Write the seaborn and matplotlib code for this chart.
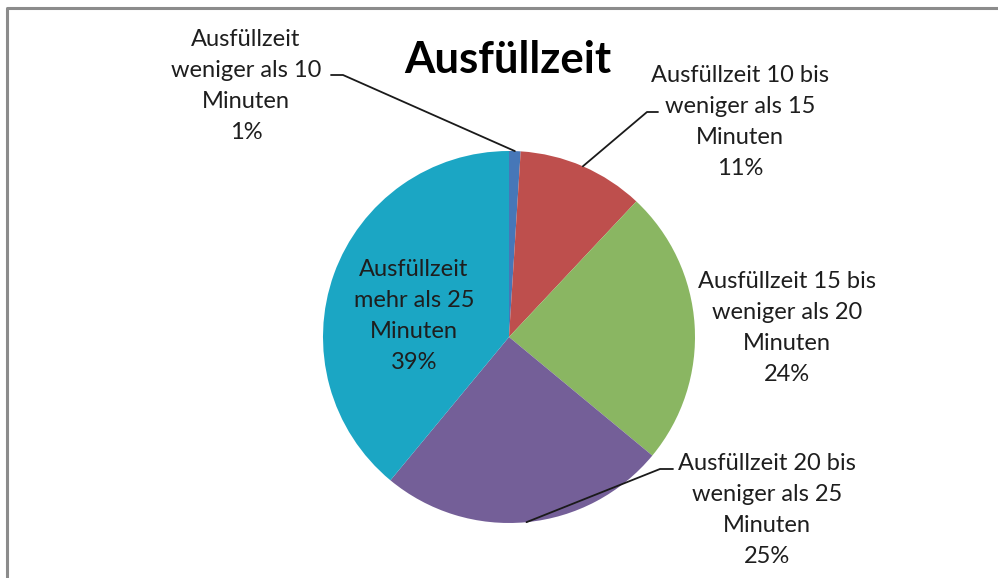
import numpy as np
import matplotlib
matplotlib.use("Agg")
import matplotlib.pyplot as plt
import seaborn as sns

categories = [
    "Ausfüllzeit\nweniger als 10\nMinuten",
    "Ausfüllzeit 10 bis\nweniger als 15\nMinuten",
    "Ausfüllzeit 15 bis\nweniger als 20\nMinuten",
    "Ausfüllzeit 20 bis\nweniger als 25\nMinuten",
    "Ausfüllzeit\nmehr als 25\nMinuten",
]
percent = [1, 11, 24, 25, 39]
colors = ["#4677B8", "#BE4F4D", "#8AB662", "#745F98", "#1BA6C4"]
title = "Ausfüllzeit"

sns.set_theme(style="white")
plt.rcParams["font.family"] = ["Lato", "DejaVu Sans"]

W, H = 998, 578
fig = plt.figure(figsize=(W / 100, H / 100), dpi=100)
ax = fig.add_axes([0, 0, 1, 1])
ax.set_xlim(0, W)
ax.set_ylim(0, H)
ax.set_aspect("equal")
ax.axis("off")

cx, cy, R = 509, H - 337, 186
wedges, _ = ax.pie(percent, colors=colors, startangle=90, counterclock=False,
                   center=(cx, cy), radius=R, frame=True,
                   wedgeprops=dict(linewidth=0))
ax.set_xlim(0, W)
ax.set_ylim(0, H)
ax.axis("off")

# frame
ax.plot([7, 7, W + 5], [-5, H - 8, H - 8], color="#8C8C8C", lw=2.2, clip_on=False)

ax.text(508, H - 60, title, ha="center", va="center", fontsize=31.5,
        fontweight="bold", color="#000000")

fs = 17
ls = 1.58
label_pos = [(246, 86), (740, 122), (787, 328), (767, 510), (414, 316)]
for i, (lab, p) in enumerate(zip(categories, percent)):
    x, y = label_pos[i]
    ax.text(x, H - y, f"{lab}\n{p}%", ha="center", va="center", fontsize=fs,
            color="#1e1e1e", linespacing=ls)

# leader lines from wedge mid-points
def mid_point(k):
    w = wedges[k]
    a = np.deg2rad((w.theta1 + w.theta2) / 2)
    return cx + R * np.cos(a), cy + R * np.sin(a)

leaders = {0: [(343, 75), (331, 75)], 1: [(647, 112), (658, 112)],
           3: [(660, 469), (673, 469)]}
for k, pts in leaders.items():
    x0, y0 = mid_point(k)
    xs = [x0] + [p[0] for p in pts]
    ys = [y0] + [H - p[1] for p in pts]
    ax.plot(xs, ys, color="#1a1a1a", lw=1.3)

fig.savefig("out.png", dpi=100, facecolor="white")
